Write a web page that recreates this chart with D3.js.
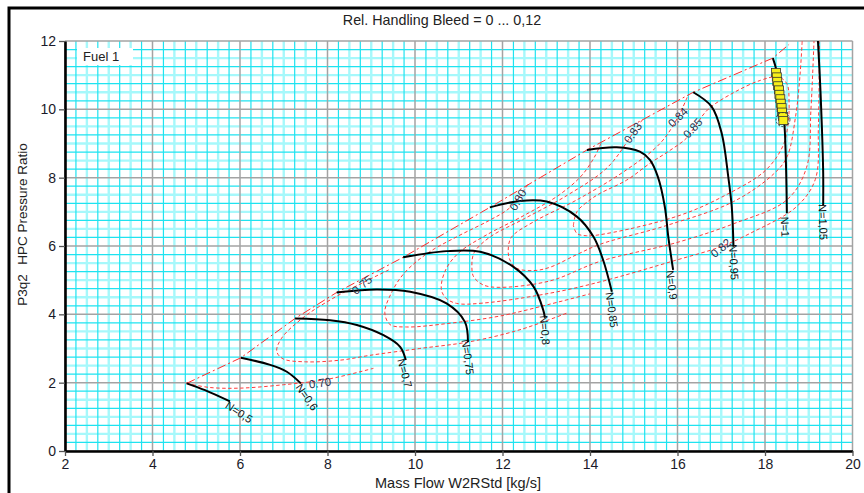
<!DOCTYPE html>
<html><head><meta charset="utf-8">
<script src="https://cdn.jsdelivr.net/npm/d3@7"></script>
<style>
body{margin:0;background:#fff;}
svg{display:block;font-family:"Liberation Sans",Arial,Helvetica,sans-serif;}
</style></head><body>
<svg id="chart" width="864" height="493"></svg>
<script>
// ---------- data ----------
const xTicks = [2,4,6,8,10,12,14,16,18,20];
const yTicks = [0,2,4,6,8,10,12];

const titleText = "Rel. Handling Bleed = 0 ... 0,12";
const xTitle = "Mass Flow W2RStd [kg/s]";
const yTitleA = "P3q2";
const yTitleB = "HPC Pressure Ratio";
const legendText = "Fuel 1";

// speed lines [massflow, pressure ratio]
const n050 = [[4.78,1.98],[5.2,1.78],[5.77,1.45]];
const n060 = [[6.02,2.73],[6.69,2.52],[7.07,2.32],[7.39,1.98]];
const n070 = [[7.26,3.88],[8.06,3.83],[8.67,3.69],[9.28,3.39],[9.66,3.05],[9.79,2.66]];
const n075 = [[8.21,4.64],[9.12,4.73],[9.89,4.66],[10.72,4.32],[11.14,3.78],[11.21,3.19]];
const n080 = [[9.73,5.67],[10.72,5.85],[11.49,5.83],[12.25,5.39],[12.71,4.81],[12.93,4.13],[12.97,3.9]];
const n085 = [[11.71,7.13],[12.4,7.32],[13.01,7.30],[13.7,6.86],[14.08,6.27],[14.3,5.59],[14.5,4.66]];
const n090 = [[13.93,8.81],[14.61,8.89],[15.14,8.76],[15.37,8.52],[15.55,8.03],[15.71,7.15],[15.79,6.27],[15.9,5.3]];
const n095 = [[16.36,10.5],[16.78,10.08],[17.01,9.3],[17.16,8.03],[17.24,7.15],[17.28,5.98]];
const n100 = [[18.18,11.5],[18.26,11.15],[18.35,10.4],[18.44,9.6],[18.47,8.8],[18.49,7.8],[18.5,6.96]];
const n105 = [[19.21,12.0],[19.26,10.76],[19.3,9.5],[19.33,8.13],[19.33,7.2]];
const speedLines = [n050,n060,n070,n075,n080,n085,n090,n095,n100,n105];
const speedNames = ["N=0,5","N=0,6","N=0,7","N=0,75","N=0,8","N=0,85","N=0,9","N=0,95","N=1","N=1,05"];
const speedLabelPos = [[5.98,1.14],[7.53,1.58],[9.77,2.28],[11.21,2.75],[12.97,3.54],[14.5,4.13],[15.87,4.86],[17.29,5.53],[18.46,6.56],[19.33,6.70]];
const speedLabelRot = [33,55,75,82,85,82,83,87,88,88];

// surge line
const surge = [[4.78,1.98],[6.02,2.73],[7.26,3.88],[8.21,4.64],[9.73,5.67],[11.71,7.13],[13.93,8.81],[16.36,10.5],[18.18,11.5],[18.55,11.9]];

// efficiency contours
const eff70 = [[4.78,1.98],[5.3,1.86],[6.0,1.84],[7.0,1.94],[8.0,2.1],[9.05,2.42]];
const eff75 = [[9.4,5.3],[8.8,4.92],[8.1,4.45],[7.44,3.9],[6.95,3.3],[6.84,2.92],[6.98,2.7],[7.5,2.61],[8.3,2.66],[8.97,2.8],[10.11,3.0],[11.26,3.2],[12.4,3.55],[13.5,4.05]];
const eff80 = [[12.58,7.8],[12.45,7.55],[12.15,7.1],[11.7,6.75],[11.0,6.3],[10.3,5.8],[9.75,5.2],[9.45,4.6],[9.31,4.05],[9.43,3.7],[9.81,3.63],[10.8,3.74],[11.94,3.95],[13.09,4.3],[14.0,4.6]];
const eff82 = [[14.25,9.0],[14.1,8.6],[13.8,8.05],[13.3,7.5],[12.5,6.9],[11.6,6.3],[11.0,5.8],[10.7,5.3],[10.6,4.75],[10.7,4.48],[10.95,4.32],[11.56,4.33],[13.09,4.62],[14.23,4.95],[15.98,5.59],[16.99,5.98],[17.66,6.37],[18.72,7.15],[19.15,7.95],[19.22,9.5],[19.24,12.0]];
const eff83 = [[15.2,9.7],[14.98,9.3],[14.4,8.3],[13.5,7.5],[12.5,6.8],[11.7,6.25],[11.35,5.8],[11.3,5.4],[11.34,5.1],[11.56,4.86],[11.94,4.79],[13.09,4.98],[14.23,5.55],[15.98,6.1],[17.28,6.65],[18.5,7.35],[18.95,8.3],[19.05,10.0],[19.12,12.0]];
const eff84 = [[16.22,10.35],[16.01,9.77],[15.6,9.0],[14.8,8.2],[13.7,7.35],[12.7,6.7],[12.2,6.25],[12.13,5.85],[12.17,5.59],[12.32,5.35],[12.71,5.28],[13.09,5.38],[13.7,5.75],[14.23,6.05],[15.75,6.6],[17.28,7.3],[18.19,8.1],[18.5,8.6],[18.7,9.8],[18.8,11.0],[18.85,12.0]];
const eff85 = [[13.62,6.6],[13.7,7.0],[14.0,7.35],[14.23,7.54],[14.84,7.93],[15.37,8.42],[15.83,8.8],[16.2,9.15],[16.4,9.5],[16.7,10.0],[17.3,10.5],[17.9,10.85],[18.3,10.95],[18.5,10.75],[18.55,10.2],[18.52,9.5],[18.4,8.9],[18.0,8.2],[17.04,7.45],[16.06,6.9],[14.53,6.4],[13.92,6.3],[13.7,6.37],[13.62,6.6]];
const effLines = [eff70,eff75,eff80,eff82,eff83,eff84,eff85];
const effNames = ["0.70","0.75","0.80","0.83","0.84","0.85","0.82"];
const effLabelPos = [[7.83,1.99],[8.79,4.86],[12.35,7.35],[14.98,9.31],[16.01,9.77],[16.35,9.45],[16.99,5.94]];
const effLabelRot = [-8,-40,-60,-55,-45,-48,-40];

// operating points (yellow squares)
const opX = [18.25,18.27,18.28,18.3,18.32,18.33,18.35,18.36,18.38,18.39,18.41,18.42];
const opY = [11.08,10.95,10.82,10.69,10.57,10.44,10.31,10.18,10.05,9.92,9.79,9.67];
const opEnd = [18.41,9.7];

// ---------- drawing ----------
const svg = d3.select("#chart");
const x = d3.scaleLinear().domain([2,20]).range([65,852.5]);
const y = d3.scaleLinear().domain([0,12]).range([451,41]);
const X0 = x.range()[0], X1 = x.range()[1], Y0 = y.range()[1], Y1 = y.range()[0];

// outer frame
svg.append("rect").attr("x",9).attr("y",8).attr("width",900).attr("height",600)
  .attr("fill","#fff").attr("stroke","#000").attr("stroke-width",3);

svg.append("defs").append("clipPath").attr("id","plotclip")
  .append("rect").attr("x",X0).attr("y",Y0).attr("width",X1-X0).attr("height",Y1-Y0);

const grid = svg.append("g");
const isMajor = v => Math.abs(v/2 - Math.round(v/2)) < 1e-6;
const xHalf = d3.range(2.5,20,0.5).filter(v=>!isMajor(v));
const xQuarter = d3.range(2.25,20,0.5);
const yHalf = d3.range(0.5,12,0.5).filter(v=>!isMajor(v));
const yQuarter = d3.range(0.25,12,0.5);

function vlines(vals, color, w){
  grid.selectAll(null).data(vals).join("line")
    .attr("x1",d=>x(d)).attr("x2",d=>x(d)).attr("y1",Y0).attr("y2",Y1)
    .attr("stroke",color).attr("stroke-width",w);
}
function hlines(vals, color, w){
  grid.selectAll(null).data(vals).join("line")
    .attr("y1",d=>y(d)).attr("y2",d=>y(d)).attr("x1",X0).attr("x2",X1)
    .attr("stroke",color).attr("stroke-width",w);
}
vlines(xHalf,"#a6f8fb",2.4); hlines(yHalf,"#a6f8fb",2.4);
vlines(xQuarter,"#1fe3f0",1.2); hlines(yQuarter,"#1fe3f0",1.2);
vlines(xTicks,"#a3a3a3",1.5); hlines(yTicks,"#a3a3a3",1.5);

// legend box
svg.append("rect").attr("x",77).attr("y",48).attr("width",56).attr("height",17).attr("fill","#fff");
svg.append("text").attr("x",83).attr("y",61).attr("font-size",13).attr("fill","#222").text(legendText);

const plot = svg.append("g").attr("clip-path","url(#plotclip)");
const line = d3.line().x(d=>x(d[0])).y(d=>y(d[1])).curve(d3.curveCatmullRom.alpha(0.5));
const pline = d3.line().x(d=>x(d[0])).y(d=>y(d[1]));

// efficiency contours
plot.selectAll(null).data(effLines).join("path")
  .attr("d",line).attr("fill","none").attr("stroke","#ff3b3b")
  .attr("stroke-width",1).attr("stroke-dasharray","3.5,2.5");

// surge line
plot.append("path").datum(surge).attr("d",pline).attr("fill","none")
  .attr("stroke","#ff2a2a").attr("stroke-width",1).attr("stroke-dasharray","9,3,2,3");

// speed lines
plot.selectAll(null).data(speedLines).join("path")
  .attr("d",line).attr("fill","none").attr("stroke","#000").attr("stroke-width",2);

// operating points
plot.selectAll(null).data(opX.map((v,i)=>[v,opY[i]])).join("rect")
  .attr("x",d=>x(d[0])-4.5).attr("y",d=>y(d[1])-4).attr("width",9).attr("height",8)
  .attr("fill","#f7ef1a").attr("stroke","#333").attr("stroke-width",0.8);
plot.append("circle").attr("cx",x(opEnd[0])).attr("cy",y(opEnd[1])).attr("r",7)
  .attr("fill","none").attr("stroke","#333").attr("stroke-width",0.9).attr("stroke-dasharray","2,1.5");

// labels
svg.selectAll(null).data(speedNames).join("text")
  .attr("transform",(d,i)=>`translate(${x(speedLabelPos[i][0])},${y(speedLabelPos[i][1])}) rotate(${speedLabelRot[i]})`)
  .attr("text-anchor","middle").attr("dominant-baseline","central")
  .attr("font-size",11).attr("fill","#111").text(d=>d);
svg.selectAll(null).data(effNames).join("text")
  .attr("transform",(d,i)=>`translate(${x(effLabelPos[i][0])},${y(effLabelPos[i][1])}) rotate(${effLabelRot[i]})`)
  .attr("text-anchor","middle").attr("dominant-baseline","central")
  .attr("font-size",11.5).attr("fill","#2a3550").text(d=>d);

// axes
const yAxis = d3.axisLeft(y).tickValues(yTicks).tickSize(6).tickSizeOuter(0).tickPadding(3).tickFormat(d3.format("d"));
const xAxis = d3.axisBottom(x).tickValues(xTicks).tickSize(5).tickSizeOuter(0).tickPadding(3).tickFormat(d3.format("d"));
const gy = svg.append("g").attr("transform",`translate(${X0},0)`).call(yAxis);
const gx = svg.append("g").attr("transform",`translate(0,${Y1})`).call(xAxis);
[gx,gy].forEach(g=>{
  g.select(".domain").attr("stroke","#000").attr("stroke-width",2.6);
  g.selectAll(".tick line").attr("stroke","#555").attr("stroke-width",1.3);
  g.selectAll(".tick text").attr("font-size",14).attr("fill","#1a1a2a")
    .attr("font-family","'Liberation Sans',Arial,sans-serif");
});

// titles
svg.append("text").attr("x",442).attr("y",25).attr("text-anchor","middle").attr("font-size",14.3).attr("fill","#222").text(titleText);
svg.append("text").attr("x",458).attr("y",488).attr("text-anchor","middle").attr("font-size",14.5).attr("fill","#222").text(xTitle);
svg.append("text").attr("transform","translate(27,290) rotate(-90)").attr("text-anchor","middle").attr("font-size",13.5).attr("fill","#222").text(yTitleA);
svg.append("text").attr("transform","translate(27,204) rotate(-90)").attr("text-anchor","middle").attr("font-size",13.5).attr("fill","#222").text(yTitleB);
</script>
</body></html>
